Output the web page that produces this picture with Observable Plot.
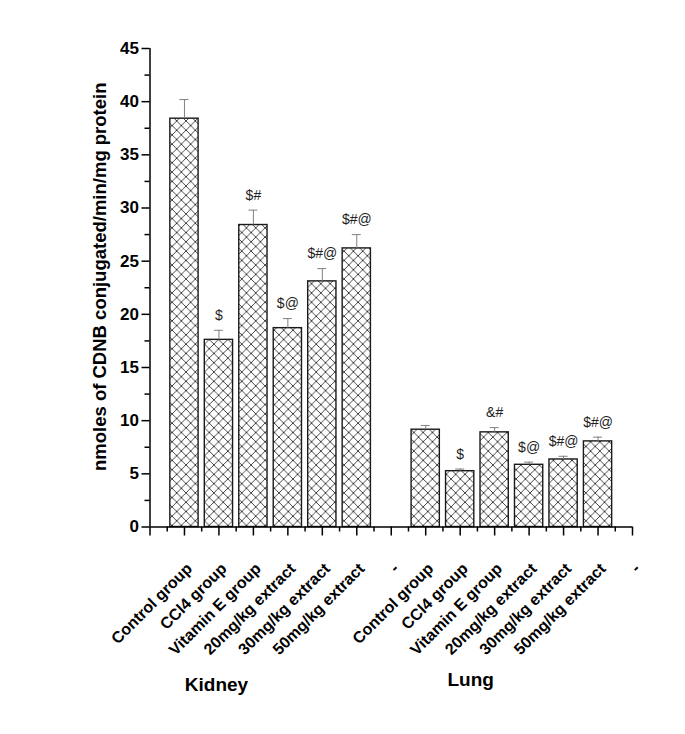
<!DOCTYPE html>
<html><head><meta charset="utf-8">
<script src="https://cdn.jsdelivr.net/npm/d3@7"></script>
<script src="https://cdn.jsdelivr.net/npm/@observablehq/plot@0.6"></script>
<style>body{margin:0;background:#fff}</style>
</head><body><div id="chart"></div>
<script>
const categories = ["Control group", "CCl4 group", "Vitamin E group", "20mg/kg extract", "30mg/kg extract", "50mg/kg extract"];
const organs = ["Kidney", "Lung"];
const kidneyMean = [38.4, 17.6, 28.4, 18.7, 23.1, 26.2];
const kidneyErr = [1.8, 0.9, 1.4, 0.9, 1.2, 1.3];
const kidneySig = ["", "$", "$#", "$@", "$#@", "$#@"];
const lungMean = [9.15, 5.25, 8.9, 5.85, 6.35, 8.05];
const lungErr = [0.4, 0.2, 0.45, 0.25, 0.3, 0.4];
const lungSig = ["", "$", "&#", "$@", "$#@", "$#@"];
const tickLabels = ["", ...categories, "-", ...categories, "-"];
const yTicks = [0, 5, 10, 15, 20, 25, 30, 35, 40, 45];
const yTitle = "nmoles of CDNB conjugated/min/mg protein";

const means = [kidneyMean, lungMean], errs = [kidneyErr, lungErr], sigs = [kidneySig, lungSig];
const rows = organs.flatMap((organ, g) => categories.map((c, i) => ({
  organ, category: c, pos: g * (categories.length + 1) + i + 1,
  mean: means[g][i], err: errs[g][i], sig: sigs[g][i]
})));
const tickPos = tickLabels.map((_, i) => i);
const bold = {fontWeight: "bold"};

const svg = Plot.plot({
  width: 685, height: 734,
  marginLeft: 149.5, marginRight: 53, marginTop: 48, marginBottom: 207.5,
  x: {domain: [0, tickLabels.length - 1], axis: null},
  y: {domain: [0, 45], axis: null},
  style: {fontFamily: "'Liberation Sans', Arial, sans-serif", background: "#fff", color: "#000"},
  marks: [
    Plot.rectY(rows, {x1: d => d.pos - 0.41, x2: d => d.pos + 0.41, y1: 0, y2: "mean", fill: "url(#xhatch)", stroke: "#1a1a1a", strokeWidth: 1.4}),
    Plot.ruleX(rows, {x: "pos", y1: "mean", y2: d => d.mean + d.err, stroke: "#808080", strokeWidth: 1}),
    Plot.ruleY(rows, {y: d => d.mean + d.err, x1: d => d.pos - 0.13, x2: d => d.pos + 0.13, stroke: "#808080", strokeWidth: 1}),
    Plot.text(rows, {x: "pos", y: d => d.mean + d.err, text: "sig", dy: -15, fontSize: 14, fill: "#222"}),
    Plot.ruleY([0], {stroke: "#000", strokeWidth: 1.5}),
    Plot.ruleX([0], {stroke: "#000", strokeWidth: 1.5}),
    Plot.axisY({ticks: yTicks, tickSize: 8, tickPadding: 3, fontSize: 17, ...bold, label: null, strokeWidth: 1.5}),
    Plot.axisY({ticks: yTicks.slice(0, -1).map(v => v + 2.5), tickSize: 5, tickFormat: () => "", label: null, strokeWidth: 1.5}),
    Plot.axisX({ticks: tickPos, tickSize: 9, tickFormat: () => "", label: null, strokeWidth: 1.5}),
    Plot.axisX({ticks: tickPos.slice(0, -1).map(v => v + 0.5), tickSize: 5, tickFormat: () => "", label: null, strokeWidth: 1.5}),
    Plot.text(tickPos, {x: d => d, text: d => tickLabels[d], frameAnchor: "bottom", rotate: -45, textAnchor: "end", lineAnchor: "middle", dx: 5, dy: 39, fontSize: 16, ...bold}),
    Plot.text([yTitle], {frameAnchor: "left", rotate: -90, textAnchor: "middle", dx: -49.5, dy: -11, fontSize: 18.5, ...bold}),
    Plot.text([organs[0]], {x: 1, frameAnchor: "bottom", dx: 32, dy: 163.5, fontSize: 19, ...bold}),
    Plot.text([organs[1]], {x: 8, frameAnchor: "bottom", dx: 45, dy: 158.5, fontSize: 19, ...bold})
  ]
});
const ns = "http://www.w3.org/2000/svg";
const defs = document.createElementNS(ns, "defs");
defs.innerHTML = `<pattern id="xhatch" patternUnits="userSpaceOnUse" width="9.3" height="9.3">
  <rect width="9.3" height="9.3" fill="#fff"/>
  <path d="M-1,-1 L10.3,10.3 M10.3,-1 L-1,10.3" stroke="#333" stroke-width="0.9" fill="none"/>
</pattern>`;
svg.insertBefore(defs, svg.firstChild);
document.getElementById("chart").appendChild(svg);
</script>
</body></html>
